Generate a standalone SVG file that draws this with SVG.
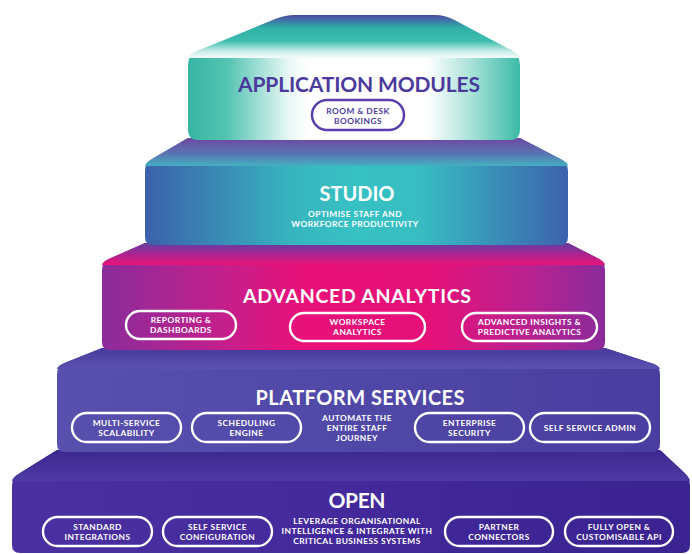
<svg xmlns="http://www.w3.org/2000/svg" width="692" height="554" viewBox="0 0 692 554">
<defs>
<style>
.title{font-family:Lato,"Liberation Sans",sans-serif;font-weight:700;text-anchor:middle;fill:#fff}
.lbl{font-family:Lato,"Liberation Sans",sans-serif;font-weight:700;font-size:8.4px;text-anchor:middle;fill:#fff;letter-spacing:0.45px}
.pill{fill:none;stroke:#fff;stroke-width:2.4}
</style>
<linearGradient id="t1top" gradientUnits="userSpaceOnUse" x1="0" y1="15" x2="0" y2="58">
<stop offset="0" stop-color="#4a48a6"/><stop offset="0.3" stop-color="#2fb0a6"/><stop offset="0.6" stop-color="#3dbdae"/><stop offset="0.85" stop-color="#c9eee8"/><stop offset="1" stop-color="#f6fcfb"/>
</linearGradient>
<linearGradient id="t1front" gradientUnits="userSpaceOnUse" x1="188" y1="0" x2="520" y2="0">
<stop offset="0" stop-color="#36b5a3"/><stop offset="0.12" stop-color="#56c4b3"/><stop offset="0.3" stop-color="#e6f7f4"/><stop offset="0.36" stop-color="#ffffff"/><stop offset="0.72" stop-color="#ffffff"/><stop offset="0.86" stop-color="#a3e0d6"/><stop offset="1" stop-color="#3bbaa7"/>
</linearGradient>
<linearGradient id="t2top" gradientUnits="userSpaceOnUse" x1="0" y1="140" x2="0" y2="166">
<stop offset="0" stop-color="#6b4da5"/><stop offset="0.5" stop-color="#5a72b0"/><stop offset="1" stop-color="#44b0c0"/>
</linearGradient>
<linearGradient id="t2front" gradientUnits="userSpaceOnUse" x1="145" y1="0" x2="568" y2="0">
<stop offset="0" stop-color="#3b60ab"/><stop offset="0.35" stop-color="#37b5bf"/><stop offset="0.5" stop-color="#37c1c3"/><stop offset="0.65" stop-color="#37bdc2"/><stop offset="1" stop-color="#3c62ad"/>
</linearGradient>
<linearGradient id="t3top" gradientUnits="userSpaceOnUse" x1="0" y1="245" x2="0" y2="265">
<stop offset="0" stop-color="#6e3aa0"/><stop offset="0.5" stop-color="#b02290"/><stop offset="1" stop-color="#ea1378"/>
</linearGradient>
<linearGradient id="t3front" gradientUnits="userSpaceOnUse" x1="102" y1="0" x2="605" y2="0">
<stop offset="0" stop-color="#8a2c9a"/><stop offset="0.25" stop-color="#c61f8b"/><stop offset="0.4" stop-color="#e91079"/><stop offset="0.65" stop-color="#e61079"/><stop offset="0.85" stop-color="#b82290"/><stop offset="1" stop-color="#8a2b9b"/>
</linearGradient>
<linearGradient id="t4top" gradientUnits="userSpaceOnUse" x1="0" y1="350" x2="0" y2="369">
<stop offset="0" stop-color="#4a3c9f"/><stop offset="1" stop-color="#5a52af"/>
</linearGradient>
<linearGradient id="t4front" gradientUnits="userSpaceOnUse" x1="57" y1="0" x2="660" y2="0">
<stop offset="0" stop-color="#5850ad"/><stop offset="0.5" stop-color="#5048a7"/><stop offset="1" stop-color="#4a3ea0"/>
</linearGradient>
<linearGradient id="t5top" gradientUnits="userSpaceOnUse" x1="0" y1="452" x2="0" y2="481">
<stop offset="0" stop-color="#3d2990"/><stop offset="1" stop-color="#4d3aa3"/>
</linearGradient>
<linearGradient id="t5front" gradientUnits="userSpaceOnUse" x1="12" y1="0" x2="690" y2="0">
<stop offset="0" stop-color="#4a30a0"/><stop offset="0.5" stop-color="#43299b"/><stop offset="1" stop-color="#3a2290"/>
</linearGradient>
</defs>
<rect width="692" height="554" fill="#ffffff"/>

<g id="open">
<path d="M57,450 L660,450 L684.1,472.5 Q690,478 690,486 L690,545 Q690,553 682,553 L20,553 Q12,553 12,545 L12,486 Q12,478 18.8,473.8 Z" fill="url(#t5front)"/>
<path d="M57,450 L660,450 L684.1,472.5 Q690,478 690,481 L12,481 Q12,478 18.8,473.8 Z" fill="url(#t5top)"/>
<text class="title" x="357" y="508" font-size="21" textLength="57">OPEN</text>
<rect class="pill" x="43" y="517" width="109" height="29" rx="14.5"/>
<text class="lbl" x="97.5" y="530">STANDARD</text><text class="lbl" x="97.5" y="540">INTEGRATIONS</text>
<rect class="pill" x="163" y="517" width="109" height="29" rx="14.5"/>
<text class="lbl" x="217.5" y="530">SELF SERVICE</text><text class="lbl" x="217.5" y="540">CONFIGURATION</text>
<text class="lbl" x="357" y="524">LEVERAGE ORGANISATIONAL</text>
<text class="lbl" x="357" y="534">INTELLIGENCE &amp; INTEGRATE WITH</text>
<text class="lbl" x="357" y="544">CRITICAL BUSINESS SYSTEMS</text>
<rect class="pill" x="445" y="517" width="108" height="29" rx="14.5"/>
<text class="lbl" x="499" y="530">PARTNER</text><text class="lbl" x="499" y="540">CONNECTORS</text>
<rect class="pill" x="565" y="517" width="108" height="29" rx="14.5"/>
<text class="lbl" x="619" y="530">FULLY OPEN &amp;</text><text class="lbl" x="619" y="540">CUSTOMISABLE API</text>
</g>

<g id="platform-services">
<path d="M102,348 L605,348 L652.4,363.5 Q660,366 660,374 L660,444 Q660,452 652,452 L65,452 Q57,452 57,444 L57,374 Q57,366 64.4,363 Z" fill="url(#t4front)"/>
<path d="M102,348 L605,348 L652.4,363.5 Q660,366 660,369 L57,369 Q57,366 64.4,363 Z" fill="url(#t4top)"/>
<text class="title" x="360" y="405" font-size="20" textLength="209">PLATFORM SERVICES</text>
<rect class="pill" x="72" y="413" width="109" height="29" rx="14.5"/>
<text class="lbl" x="126.5" y="426">MULTI-SERVICE</text><text class="lbl" x="126.5" y="436">SCALABILITY</text>
<rect class="pill" x="192" y="413" width="109" height="29" rx="14.5"/>
<text class="lbl" x="246.5" y="426">SCHEDULING</text><text class="lbl" x="246.5" y="436">ENGINE</text>
<text class="lbl" x="357" y="421">AUTOMATE THE</text>
<text class="lbl" x="357" y="431">ENTIRE STAFF</text>
<text class="lbl" x="357" y="441">JOURNEY</text>
<rect class="pill" x="415" y="413" width="109" height="29" rx="14.5"/>
<text class="lbl" x="469.5" y="426">ENTERPRISE</text><text class="lbl" x="469.5" y="436">SECURITY</text>
<rect class="pill" x="530" y="413" width="120" height="29" rx="14.5"/>
<text class="lbl" x="590" y="430.5">SELF SERVICE ADMIN</text>
</g>

<g id="advanced-analytics">
<path d="M145,243 L568,243 L597.9,258.3 Q605,262 605,270 L605,342 Q605,350 597,350 L110,350 Q102,350 102,342 L102,270 Q102,262 109.3,258.8 Z" fill="url(#t3front)"/>
<path d="M145,243 L568,243 L597.9,258.3 Q605,262 605,265 L102,265 Q102,262 109.3,258.8 Z" fill="url(#t3top)"/>
<text class="title" x="357" y="303" font-size="19.5" textLength="228">ADVANCED ANALYTICS</text>
<rect class="pill" x="126" y="311" width="110" height="28" rx="14"/>
<text class="lbl" x="181" y="323">REPORTING &amp;</text><text class="lbl" x="181" y="333">DASHBOARDS</text>
<rect class="pill" x="290" y="313" width="135" height="28" rx="14"/>
<text class="lbl" x="357.5" y="325">WORKSPACE</text><text class="lbl" x="357.5" y="335">ANALYTICS</text>
<rect class="pill" x="462" y="313" width="135" height="28" rx="14"/>
<text class="lbl" x="529.5" y="325">ADVANCED INSIGHTS &amp;</text><text class="lbl" x="529.5" y="335">PREDICTIVE ANALYTICS</text>
</g>

<g id="studio">
<path d="M188,138 L520,138 L561,159.3 Q568,163 568,171 L568,237 Q568,245 560,245 L153,245 Q145,245 145,237 L145,171 Q145,163 152,159 Z" fill="url(#t2front)"/>
<path d="M188,138 L520,138 L561,159.3 Q568,163 568,166 L145,166 Q145,163 152,159 Z" fill="url(#t2top)"/>
<text class="title" x="357" y="201" font-size="20" textLength="75">STUDIO</text>
<text class="lbl" x="355" y="217">OPTIMISE STAFF AND</text>
<text class="lbl" x="355" y="227">WORKFORCE PRODUCTIVITY</text>
</g>

<g id="application-modules">
<path d="M295,15 L435,15 Q445,15 454,19.7 L511,50.3 Q520,55 520,65 L520,130 Q520,140 510,140 L198,140 Q188,140 188,130 L188,65 Q188,55 197.2,51.2 L275.8,18.8 Q285,15 295,15 Z" fill="url(#t1front)"/>
<path d="M295,15 L435,15 Q445,15 454,19.7 L511,50.3 Q520,55 520,58 L188,58 Q188,55 197.2,51.2 L275.8,18.8 Q285,15 295,15 Z" fill="url(#t1top)"/>
<text class="title" x="359" y="92" font-size="21" textLength="242" style="fill:#4b3a9c">APPLICATION MODULES</text>
<rect x="312" y="100" width="92" height="30" rx="15" fill="#ffffff" stroke="#5a3fae" stroke-width="2.5"/>
<text class="lbl" x="358" y="113.5" style="fill:#4b3a9c">ROOM &amp; DESK</text>
<text class="lbl" x="358" y="123.5" style="fill:#4b3a9c">BOOKINGS</text>
</g>
</svg>
